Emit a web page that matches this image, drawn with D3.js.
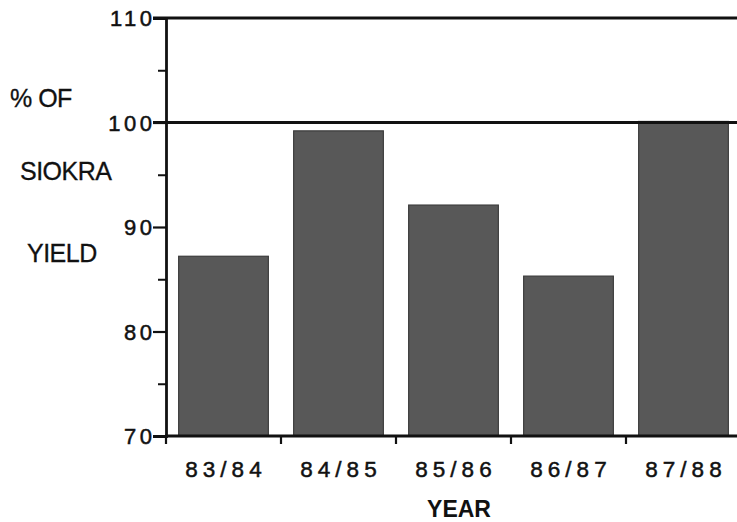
<!DOCTYPE html>
<html><head><meta charset="utf-8">
<script src="https://cdn.jsdelivr.net/npm/d3@7"></script>
<style>body{margin:0;background:#fff}svg{display:block}</style>
</head><body>
<svg id="c" width="737" height="522"></svg>
<script>
const categories = ["83/84","84/85","85/86","86/87","87/88"];
const values = [87.2, 99.2, 92.1, 85.3, 100.1];
const yTicks = [70, 80, 90, 100, 110];
const yMinor = [75, 85, 95, 105];
const refLines = [100, 110];
const yLabelLines = ["% OF", "SIOKRA", "YIELD"];

const svg = d3.select("#c");
const font = "'Liberation Sans', Arial, Helvetica, sans-serif";
const y = d3.scaleLinear().domain([70,110]).range([436,18]);
const x0 = 166;
const x = d3.scaleBand().domain(categories).range([x0,741]).paddingInner(0.22).paddingOuter(0.11);

// bars
svg.selectAll("rect.bar").data(values).join("rect")
  .attr("x",(d,i)=>x(categories[i])).attr("width",x.bandwidth())
  .attr("y",d=>y(d)).attr("height",d=>y(70)-y(d))
  .attr("fill","#585858").attr("stroke","#3c3c3c").attr("stroke-width",1.2);

// reference lines
svg.selectAll("line.ref").data(refLines).join("line")
  .attr("x1",153).attr("x2",737).attr("y1",d=>y(d)).attr("y2",d=>y(d))
  .attr("stroke","#111").attr("stroke-width",2.8);

// y axis
const yAxis = d3.axisLeft(y).tickValues(yTicks).tickSize(13).tickPadding(1).tickFormat(d3.format("d"));
const gy = svg.append("g").attr("transform",`translate(${x0},0)`).call(yAxis);
gy.select(".domain").attr("stroke","#111").attr("stroke-width",2.8);
gy.selectAll(".tick line").attr("stroke","#111").attr("stroke-width",2.2);
gy.selectAll(".tick text").attr("font-family",font).attr("font-size",22).attr("fill","#111")
  .attr("stroke","#111").attr("stroke-width",0.5)
  .attr("letter-spacing","3.5px").attr("dx","3.5px").attr("dy","0.36em");
const yAxisMinor = d3.axisLeft(y).tickValues(yMinor).tickSize(8).tickFormat("");
const gym = svg.append("g").attr("transform",`translate(${x0},0)`).call(yAxisMinor);
gym.select(".domain").remove();
gym.selectAll(".tick line").attr("stroke","#111").attr("stroke-width",2);

// x axis
const gx = svg.append("g").attr("transform",`translate(0,${y(70)})`);
gx.append("line").attr("x1",x0-1).attr("x2",737).attr("stroke","#111").attr("stroke-width",2.8);
const step = x.step();
const tickXs = [x0].concat(categories.slice(0,-1).map(c=>x(c)+x.bandwidth()+(step-x.bandwidth())/2));
gx.selectAll("line.t").data(tickXs).join("line").attr("class","t")
  .attr("x1",d=>d).attr("x2",d=>d).attr("y1",0).attr("y2",8)
  .attr("stroke","#111").attr("stroke-width",2.2);
gx.selectAll("text.xl").data(categories).join("text").attr("class","xl")
  .attr("x",d=>x(d)+x.bandwidth()/2 + 2.5).attr("y",41)
  .attr("text-anchor","middle").attr("font-family",font).attr("font-size",22.5)
  .attr("stroke","#111").attr("stroke-width",0.5)
  .attr("letter-spacing","5px").attr("fill","#111").text(d=>d);

svg.append("text").attr("x",459).attr("y",517).attr("text-anchor","middle")
  .attr("font-family",font).attr("font-size",23).attr("font-weight","bold").attr("fill","#111").text("YEAR");

// y label lines
const labPos = [[10,107],[20,180],[27,262]];
svg.selectAll("text.yl").data(yLabelLines).join("text").attr("class","yl")
  .attr("x",(d,i)=>labPos[i][0]).attr("y",(d,i)=>labPos[i][1])
  .attr("font-family",font).attr("font-size",25).attr("letter-spacing","-0.5px")
  .attr("stroke","#111").attr("stroke-width",0.3).attr("fill","#111").text(d=>d);
</script>
</body></html>
